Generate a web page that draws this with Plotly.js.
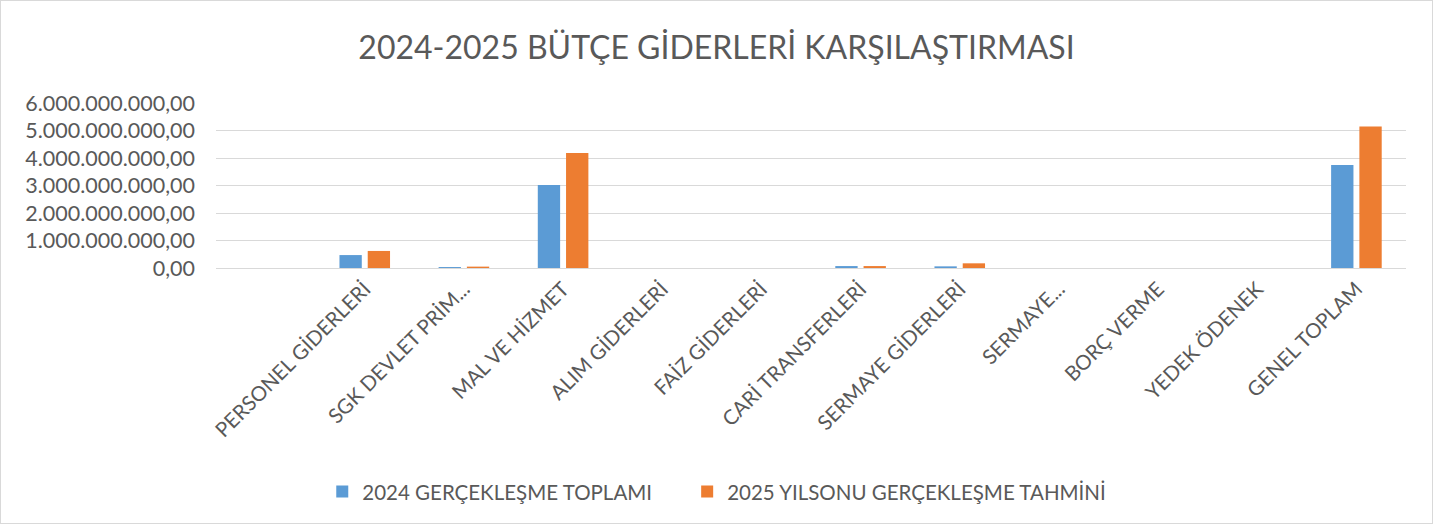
<!DOCTYPE html>
<html>
<head>
<meta charset="utf-8">
<script src="https://cdn.plot.ly/plotly-3.0.1.min.js"></script>
<style>
html,body{margin:0;padding:0;background:#fff;}
#chart{width:1431px;height:522px;border:1px solid #d9d9d9;}
</style>
</head>
<body>
<div id="chart"></div>
<script>
const categories = ["PERSONEL GİDERLERİ","SGK DEVLET PRİM...","MAL VE HİZMET","ALIM GİDERLERİ","FAİZ GİDERLERİ","CARİ TRANSFERLERİ","SERMAYE GİDERLERİ","SERMAYE...","BORÇ VERME","YEDEK ÖDENEK","GENEL TOPLAM"];
const values2024 = [470000000, 35000000, 3020000000, 0, 0, 70000000, 60000000, 0, 0, 0, 3750000000];
const values2025 = [620000000, 50000000, 4180000000, 0, 0, 70000000, 170000000, 0, 0, 0, 5150000000];
const seriesNames = ["2024 GERÇEKLEŞME TOPLAMI","2025 YILSONU GERÇEKLEŞME TAHMİNİ"];
const tickVals = [0,1e9,2e9,3e9,4e9,5e9,6e9];

const font = "Lato, 'Open Sans', sans-serif";
const traces = [
  {type:"bar", name:seriesNames[0], x:categories, y:values2024, marker:{color:"#5B9BD5"}, legend:"legend"},
  {type:"bar", name:seriesNames[1], x:categories, y:values2025, marker:{color:"#ED7D31"}, legend:"legend2"}
];
const legendFont = {family:font, size:20.5, color:"#595959"};
const layout = {
  width:1431, height:522,
  separators:",.",
  paper_bgcolor:"#fff", plot_bgcolor:"#fff",
  margin:{l:215, r:26, t:102, b:255},
  title:{text:"2024-2025 BÜTÇE GİDERLERİ KARŞILAŞTIRMASI", font:{family:font, size:32, color:"#595959"}, x:0.5, xanchor:"center", y:0.91, yanchor:"middle"},
  barmode:"group", bargap:0.43, bargroupgap:0.21,
  xaxis:{type:"category", range:[-1.5, 10.5], tickangle:-45, tickfont:{family:font, size:20.5, color:"#595959"}, showline:true, linecolor:"#d9d9d9", linewidth:1, ticks:"", showgrid:false},
  yaxis:{range:[0,6e9], tickvals:tickVals, tickformat:",.2f", tickfont:{family:font, size:21.5, color:"#595959"}, gridcolor:"#d9d9d9", gridwidth:1, zeroline:false, showline:false, ticks:"", ticklen:0, ticklabelstandoff:20},
  showlegend:true,
  legend:{orientation:"h", xref:"container", yref:"container", x:0.2245, xanchor:"left", y:0.06, yanchor:"middle", font:legendFont},
  legend2:{orientation:"h", xref:"container", yref:"container", x:0.4795, xanchor:"left", y:0.06, yanchor:"middle", font:legendFont}
};
Plotly.newPlot("chart", traces, layout, {displayModeBar:false, staticPlot:true});
</script>
</body>
</html>
